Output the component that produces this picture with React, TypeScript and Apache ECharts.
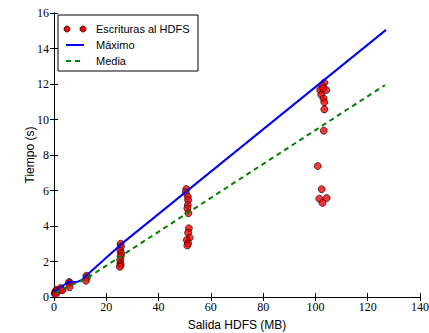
import React, { useEffect, useRef } from "react";
import * as echarts from "echarts";

const xTicks = [0, 20, 40, 60, 80, 100, 120, 140];
const yTicks = [0, 2, 4, 6, 8, 10, 12, 14, 16];

const writesHDFS: [number, number][] = [
  [0.3, 0.2], [0.5, 0.28], [0.8, 0.35], [1.0, 0.4], [1.3, 0.3], [0.6, 0.15],
  [2.5, 0.5], [2.9, 0.43], [3.2, 0.38],
  [5.8, 0.85], [6.0, 0.78], [5.9, 0.55],
  [12.4, 1.2], [12.6, 1.1], [12.2, 0.92],
  [25.5, 3.0], [25.6, 2.85], [25.4, 2.6], [25.7, 2.45], [25.5, 2.3], [25.3, 2.1], [25.4, 1.9], [25.5, 1.8], [25.2, 1.7],
  [50.6, 6.08], [50.4, 5.9], [51.2, 5.65], [51.3, 5.46], [51.2, 5.18], [51.0, 4.99], [51.4, 4.72],
  [51.6, 3.87], [51.3, 3.62], [51.9, 3.34], [50.8, 3.21], [51.3, 3.02], [51.0, 2.9],
  [103.4, 12.07], [102.6, 11.9], [101.8, 11.66], [104.1, 11.66], [102.9, 11.75], [102.2, 11.4],
  [103.1, 11.19], [103.4, 10.97], [103.4, 10.57], [103.2, 9.37], [100.9, 7.38], [102.4, 6.07],
  [101.5, 5.54], [104.3, 5.58], [102.7, 5.3],
];

const maxLine: [number, number][] = [
  [0.3, 0.3], [2.5, 0.55], [5.5, 0.84], [9, 0.86], [10.5, 0.95], [12.5, 1.22], [25.5, 2.95], [127, 15.05],
];

const meanLine: [number, number][] = [
  [0.5, 0.22], [3, 0.4], [7, 0.68], [12.5, 1.05], [126.6, 11.94],
];

const legendLabels = ["Escrituras al HDFS", "Máximo", "Media"];

export default function App() {
  const ref = useRef<HTMLDivElement>(null);
  useEffect(() => {
    if (!ref.current) return;
    const chart = echarts.init(ref.current, null, { renderer: "svg" });
    const serif = "Liberation Serif";
    const sans = "Liberation Sans";
    const axisCommon = {
      type: "value" as const,
      axisLine: { show: true, lineStyle: { color: "#000", width: 1 } },
      axisTick: { show: true, inside: true, length: 4, lineStyle: { color: "#000" } },
      splitLine: { show: false },
    };
    const legendX = 58, legendY = 15, legendW = 140, legendH = 56;
    const rowY = [29, 45, 61];
    chart.setOption({
      animation: false,
      grid: { left: 54, right: 9, top: 13, bottom: 36, outerBoundsMode: "none", containLabel: false },
      xAxis: [
        {
          ...axisCommon,
          min: 0, max: 140, interval: 20,
          name: "Salida HDFS (MB)",
          nameLocation: "middle",
          nameGap: 22,
          nameMoveOverlap: false,
          nameTextStyle: { fontFamily: sans, fontSize: 12, color: "#000" },
          axisLabel: { fontFamily: serif, fontSize: 12, color: "#000", margin: 4,
            formatter: (v: number) => (xTicks.includes(v) ? String(v) : "") },
        },
        {
          ...axisCommon,
          position: "top",
          min: 0, max: 140, interval: 20,
          axisLabel: { show: false },
        },
      ],
      yAxis: [
        {
          ...axisCommon,
          min: 0, max: 16, interval: 2,
          name: "Tiempo (s)",
          nameLocation: "middle",
          nameGap: 18,
          nameMoveOverlap: false,
          nameTextStyle: { fontFamily: sans, fontSize: 12, color: "#000" },
          axisLabel: { fontFamily: serif, fontSize: 12, color: "#000", margin: 5,
            formatter: (v: number) => (yTicks.includes(v) ? String(v) : "") },
        },
        {
          ...axisCommon,
          position: "right",
          min: 0, max: 16, interval: 2,
          axisLabel: { show: false },
        },
      ],
      series: [
        {
          name: legendLabels[0],
          type: "scatter",
          data: writesHDFS,
          symbol: "circle",
          symbolSize: 7,
          itemStyle: { color: "#ff0000", borderColor: "#000", borderWidth: 0.8 },
          z: 2,
        },
        {
          name: legendLabels[1],
          type: "line",
          data: maxLine,
          showSymbol: false,
          lineStyle: { color: "#0000ff", width: 2 },
          z: 3,
        },
        {
          name: legendLabels[2],
          type: "line",
          data: meanLine,
          showSymbol: false,
          lineStyle: { color: "#008000", width: 2, type: [5, 4] },
          z: 3,
        },
      ],
      graphic: [
        {
          type: "rect",
          shape: { x: legendX, y: legendY, width: legendW, height: legendH },
          style: { fill: "#fff", stroke: "#000", lineWidth: 1 },
          z: 10,
        },
        { type: "circle", shape: { cx: 67, cy: rowY[0], r: 3 }, style: { fill: "#ff0000", stroke: "#000", lineWidth: 0.8 }, z: 11 },
        { type: "circle", shape: { cx: 83, cy: rowY[0], r: 3 }, style: { fill: "#ff0000", stroke: "#000", lineWidth: 0.8 }, z: 11 },
        { type: "line", shape: { x1: 66, y1: rowY[1], x2: 84, y2: rowY[1] }, style: { stroke: "#0000ff", lineWidth: 2 }, z: 11 },
        { type: "line", shape: { x1: 66, y1: rowY[2], x2: 84, y2: rowY[2] }, style: { stroke: "#008000", lineWidth: 2, lineDash: [5, 4] }, z: 11 },
        ...legendLabels.map((t, i) => ({
          type: "text",
          x: 96, y: rowY[i],
          style: { text: t, fontFamily: sans, fontSize: 11, fill: "#000", verticalAlign: "middle" },
          z: 11,
        })),
      ],
    });
    return () => chart.dispose();
  }, []);
  return <div ref={ref} style={{ width: 429, height: 333, position: "absolute", left: 0, top: 0, background: "#fff" }} />;
}
